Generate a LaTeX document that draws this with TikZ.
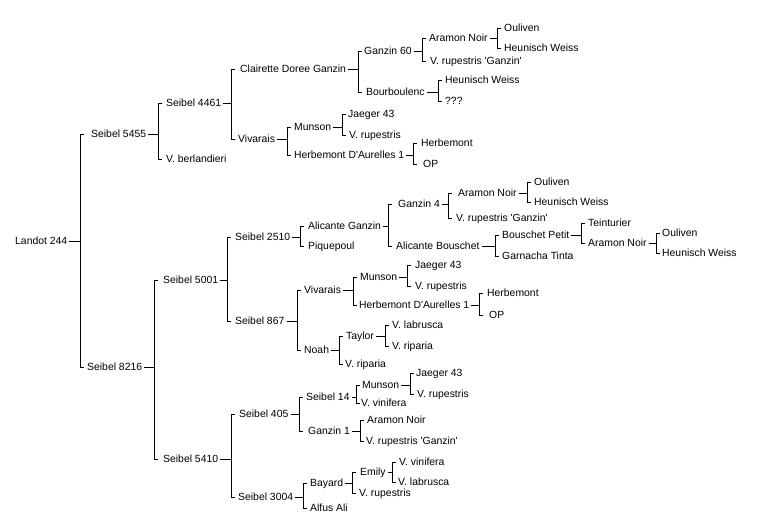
\documentclass[tikz,border=0pt]{standalone}
\usepackage{fontspec}
\setmainfont{Liberation Sans}[Ligatures=TeXOff]
\usetikzlibrary{calc}
\tikzset{
  lbl/.style={anchor=west, inner xsep=0pt, inner ysep=0pt, text height=7.4pt, text depth=0pt, font=\fontsize{10.4}{12}\selectfont},
  ln/.style={line width=1pt, black}
}
\newcommand\mybr[4]{%
  \path let \p1=(#1.east) in coordinate (#1b) at (#2pt,\y1);
  \draw[ln] ([xshift=2pt]#1.east) -- (#1b);
  \draw[ln] (#1b |- #3.west) ++(4pt,0) -- (#1b |- #3.west) -- (#1b |- #4.west) -- ++(4pt,0);
}
\begin{document}
\begin{tikzpicture}[x=1pt, y=-1pt]
\useasboundingbox (0,0) rectangle (761,530);
\node[lbl] (L) at (15,241) {Landot 244};
\node[lbl] (A) at (91,134) {Seibel 5455};
\node[lbl] (A1) at (166,103) {Seibel 4461};
\node[lbl] (A11) at (240,69) {Clairette Doree Ganzin};
\node[lbl] (A111) at (364,51) {Ganzin 60};
\node[lbl] (A1111) at (429,38) {Aramon Noir};
\node[lbl] (A11111) at (504,28) {Ouliven};
\node[lbl] (A11112) at (504,48) {Heunisch Weiss};
\node[lbl] (A1112) at (430,61) {V. rupestris 'Ganzin'};
\node[lbl] (A112) at (366,92) {Bourboulenc};
\node[lbl] (A1121) at (445,80) {Heunisch Weiss};
\node[lbl] (A1122) at (445,101) {???};
\node[lbl] (A12) at (238,139) {Vivarais};
\node[lbl] (A121) at (294,127) {Munson};
\node[lbl] (A1211) at (348,114) {Jaeger 43};
\node[lbl] (A1212) at (349,135) {V. rupestris};
\node[lbl] (A122) at (294,155) {Herbemont D'Aurelles 1};
\node[lbl] (A1221) at (421,143) {Herbemont};
\node[lbl] (A1222) at (423,164) {OP};
\node[lbl] (A2) at (166,159) {V. berlandieri};
\node[lbl] (B) at (87,367) {Seibel 8216};
\node[lbl] (B1) at (163,280) {Seibel 5001};
\node[lbl] (B11) at (235,237) {Seibel 2510};
\node[lbl] (B111) at (308,226) {Alicante Ganzin};
\node[lbl] (B1111) at (398,204) {Ganzin 4};
\node[lbl] (B11111) at (458,193) {Aramon Noir};
\node[lbl] (B111111) at (534,182) {Ouliven};
\node[lbl] (B111112) at (534,202) {Heunisch Weiss};
\node[lbl] (B11112) at (456,218) {V. rupestris 'Ganzin'};
\node[lbl] (B1112) at (396,246) {Alicante Bouschet};
\node[lbl] (B11121) at (502,235) {Bouschet Petit};
\node[lbl] (B111211) at (588,223) {Teinturier};
\node[lbl] (B111212) at (588,243) {Aramon Noir};
\node[lbl] (B1112121) at (662,233) {Ouliven};
\node[lbl] (B1112122) at (662,253) {Heunisch Weiss};
\node[lbl] (B11122) at (502,256) {Garnacha Tinta};
\node[lbl] (B112) at (308,246) {Piquepoul};
\node[lbl] (B12) at (235,321) {Seibel 867};
\node[lbl] (B121) at (304,290) {Vivarais};
\node[lbl] (B1211) at (360,277) {Munson};
\node[lbl] (B12111) at (415,265) {Jaeger 43};
\node[lbl] (B12112) at (415,286) {V. rupestris};
\node[lbl] (B1212) at (359,305) {Herbemont D'Aurelles 1};
\node[lbl] (B12121) at (487,293) {Herbemont};
\node[lbl] (B12122) at (489,315) {OP};
\node[lbl] (B122) at (304,350) {Noah};
\node[lbl] (B1221) at (346,336) {Taylor};
\node[lbl] (B12211) at (392,325) {V. labrusca};
\node[lbl] (B12212) at (392,346) {V. riparia};
\node[lbl] (B1222) at (345,364) {V. riparia};
\node[lbl] (B2) at (163,459) {Seibel 5410};
\node[lbl] (B21) at (239,414) {Seibel 405};
\node[lbl] (B211) at (306,397) {Seibel 14};
\node[lbl] (B2111) at (362,385) {Munson};
\node[lbl] (B21111) at (416,373) {Jaeger 43};
\node[lbl] (B21112) at (417,394) {V. rupestris};
\node[lbl] (B2112) at (361,403) {V. vinifera};
\node[lbl] (B212) at (308,431) {Ganzin 1};
\node[lbl] (B2121) at (367,420) {Aramon Noir};
\node[lbl] (B2122) at (366,441) {V. rupestris 'Ganzin'};
\node[lbl] (B22) at (238,497) {Seibel 3004};
\node[lbl] (B221) at (310,483) {Bayard};
\node[lbl] (B2211) at (360,472) {Emily};
\node[lbl] (B22111) at (399,462) {V. vinifera};
\node[lbl] (B22112) at (398,482) {V. labrusca};
\node[lbl] (B2212) at (359,493) {V. rupestris};
\node[lbl] (B222) at (310,508) {Alfus Ali};
\mybr{L}{80}{A}{B}
\mybr{A}{158}{A1}{A2}
\mybr{A1}{231}{A11}{A12}
\mybr{A11}{358}{A111}{A112}
\mybr{A111}{422}{A1111}{A1112}
\mybr{A1111}{497}{A11111}{A11112}
\mybr{A112}{438}{A1121}{A1122}
\mybr{A12}{287}{A121}{A122}
\mybr{A121}{342}{A1211}{A1212}
\mybr{A122}{413}{A1221}{A1222}
\mybr{B}{154}{B1}{B2}
\mybr{B1}{227}{B11}{B12}
\mybr{B11}{300}{B111}{B112}
\mybr{B111}{388}{B1111}{B1112}
\mybr{B1111}{448}{B11111}{B11112}
\mybr{B11111}{527}{B111111}{B111112}
\mybr{B1112}{495}{B11121}{B11122}
\mybr{B11121}{581}{B111211}{B111212}
\mybr{B111212}{656}{B1112121}{B1112122}
\mybr{B12}{297}{B121}{B122}
\mybr{B121}{353}{B1211}{B1212}
\mybr{B1211}{407}{B12111}{B12112}
\mybr{B1212}{479}{B12121}{B12122}
\mybr{B122}{339}{B1221}{B1222}
\mybr{B1221}{385}{B12211}{B12212}
\mybr{B2}{231}{B21}{B22}
\mybr{B21}{299}{B211}{B212}
\mybr{B211}{356}{B2111}{B2112}
\mybr{B2111}{410}{B21111}{B21112}
\mybr{B212}{360}{B2121}{B2122}
\mybr{B22}{303}{B221}{B222}
\mybr{B221}{352}{B2211}{B2212}
\mybr{B2211}{392}{B22111}{B22112}
\end{tikzpicture}
\end{document}
